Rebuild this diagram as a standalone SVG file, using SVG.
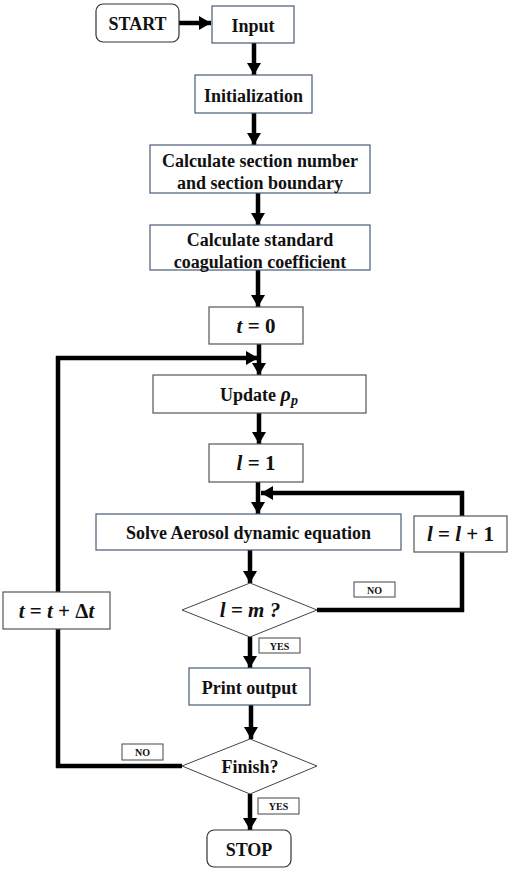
<svg xmlns="http://www.w3.org/2000/svg" width="512" height="873" viewBox="0 0 512 873">
<style>
.box{fill:#fff;stroke:#4a5a7a;stroke-width:1.2}
.gbox{fill:#fff;stroke:#555;stroke-width:1.2}
.lbl{fill:#fff;stroke:#444;stroke-width:1}
.t{font-family:"Liberation Serif",serif;font-weight:bold;font-size:18px;fill:#111;text-anchor:middle}
.m{font-family:"Liberation Serif",serif;font-weight:bold;font-style:italic;font-size:21px;fill:#111;text-anchor:middle}
.s{font-family:"Liberation Serif",serif;font-weight:bold;font-size:10px;fill:#111;text-anchor:middle}
.c{fill:none;stroke:#000;stroke-width:4.5}
</style>
<defs>
<marker id="ah" markerUnits="userSpaceOnUse" markerWidth="14" markerHeight="14" refX="12" refY="7" orient="auto">
<path d="M0,0 L12,7 L0,14 Z" fill="#000"/>
</marker>
</defs>
<rect width="512" height="873" fill="#fff"/>
<g id="connectors">
<line class="c" x1="179" y1="23" x2="211" y2="23" marker-end="url(#ah)"/>
<line class="c" x1="254" y1="43" x2="254" y2="75" marker-end="url(#ah)"/>
<line class="c" x1="254" y1="113" x2="254" y2="145" marker-end="url(#ah)"/>
<line class="c" x1="258" y1="193" x2="258" y2="225" marker-end="url(#ah)"/>
<line class="c" x1="258" y1="270" x2="258" y2="307" marker-end="url(#ah)"/>
<line class="c" x1="259" y1="344" x2="259" y2="375" marker-end="url(#ah)"/>
<line class="c" x1="259" y1="413" x2="259" y2="444" marker-end="url(#ah)"/>
<line class="c" x1="258" y1="482" x2="258" y2="514" marker-end="url(#ah)"/>
<line class="c" x1="250" y1="550" x2="250" y2="583" marker-end="url(#ah)"/>
<line class="c" x1="250" y1="637" x2="250" y2="668" marker-end="url(#ah)"/>
<line class="c" x1="251" y1="705" x2="251" y2="739" marker-end="url(#ah)"/>
<line class="c" x1="250" y1="794" x2="250" y2="830" marker-end="url(#ah)"/>
<polyline class="c" points="317,610 462,610 462,552"/>
<polyline class="c" points="462,516 462,493 261,493" marker-end="url(#ah)"/>
<polyline class="c" points="182,766 58,766 58,629"/>
<polyline class="c" points="58,592 58,358 258,358" marker-end="url(#ah)"/>
</g>
<g id="start"><rect x="96" y="4" width="83" height="38" rx="7" fill="#fff" stroke="#333" stroke-width="1.2"/><text class="t" x="137.5" y="30">START</text></g>
<g id="input"><rect class="box" x="212" y="6" width="82" height="37"/><text class="t" x="253" y="32">Input</text></g>
<g id="init"><rect class="box" x="195" y="75" width="117" height="38"/><text class="t" x="253.5" y="101.5">Initialization</text></g>
<g id="calc-section"><rect class="box" x="150" y="145" width="220" height="48"/><text class="t" x="260" y="167">Calculate section number</text><text class="t" x="260" y="189">and section boundary</text></g>
<g id="calc-coag"><rect class="box" x="150" y="225" width="220" height="45"/><text class="t" x="260" y="246">Calculate standard</text><text class="t" x="260" y="268">coagulation coefficient</text></g>
<g id="t0"><rect class="gbox" x="209" y="307" width="94" height="37"/><text class="m" x="256" y="333">t <tspan font-style="normal">= 0</tspan></text></g>
<g id="update"><rect class="gbox" x="153" y="375" width="213" height="38"/><text class="t" x="259" y="401">Update <tspan font-style="italic" font-size="20">ρ</tspan><tspan font-style="italic" font-size="14" dy="4">p</tspan></text></g>
<g id="l1"><rect class="gbox" x="209" y="444" width="94" height="38"/><text class="m" x="256" y="470">l <tspan font-style="normal">= 1</tspan></text></g>
<g id="solve"><rect class="box" x="96" y="514" width="305" height="36"/><text class="t" x="248.5" y="539">Solve Aerosol dynamic equation</text></g>
<g id="linc"><rect class="gbox" x="414" y="516" width="93" height="36"/><text class="m" x="460.5" y="541">l <tspan font-style="normal">=</tspan> l <tspan font-style="normal">+ 1</tspan></text></g>
<g id="dec-lm"><polygon points="250,583 317,610 250,637 182,610" fill="#fff" stroke="#444" stroke-width="1"/><text class="m" x="250" y="617">l <tspan font-style="normal">=</tspan> m ?</text></g>
<g id="no1"><rect class="lbl" x="354" y="582" width="41" height="15"/><text class="s" x="374.5" y="593.5">NO</text></g>
<g id="yes1"><rect class="lbl" x="259" y="638" width="41" height="15"/><text class="s" x="279.5" y="649.5">YES</text></g>
<g id="print"><rect class="box" x="189" y="668" width="121" height="37"/><text class="t" x="249.5" y="694">Print output</text></g>
<g id="tinc"><rect class="gbox" x="3" y="592" width="107" height="37"/><text class="m" x="56.5" y="618">t <tspan font-style="normal">=</tspan> t <tspan font-style="normal">+ Δ</tspan>t</text></g>
<g id="finish"><polygon points="250,739 317,766 250,794 182,766" fill="#fff" stroke="#444" stroke-width="1"/><text class="t" x="250" y="773">Finish?</text></g>
<g id="no2"><rect class="lbl" x="122" y="744" width="41" height="16"/><text class="s" x="142.5" y="756">NO</text></g>
<g id="yes2"><rect class="lbl" x="258" y="798" width="41" height="16"/><text class="s" x="278.5" y="810">YES</text></g>
<g id="stop"><rect x="207" y="830" width="84" height="37" rx="7" fill="#fff" stroke="#333" stroke-width="1.2"/><text class="t" x="249" y="856">STOP</text></g>
</svg>
